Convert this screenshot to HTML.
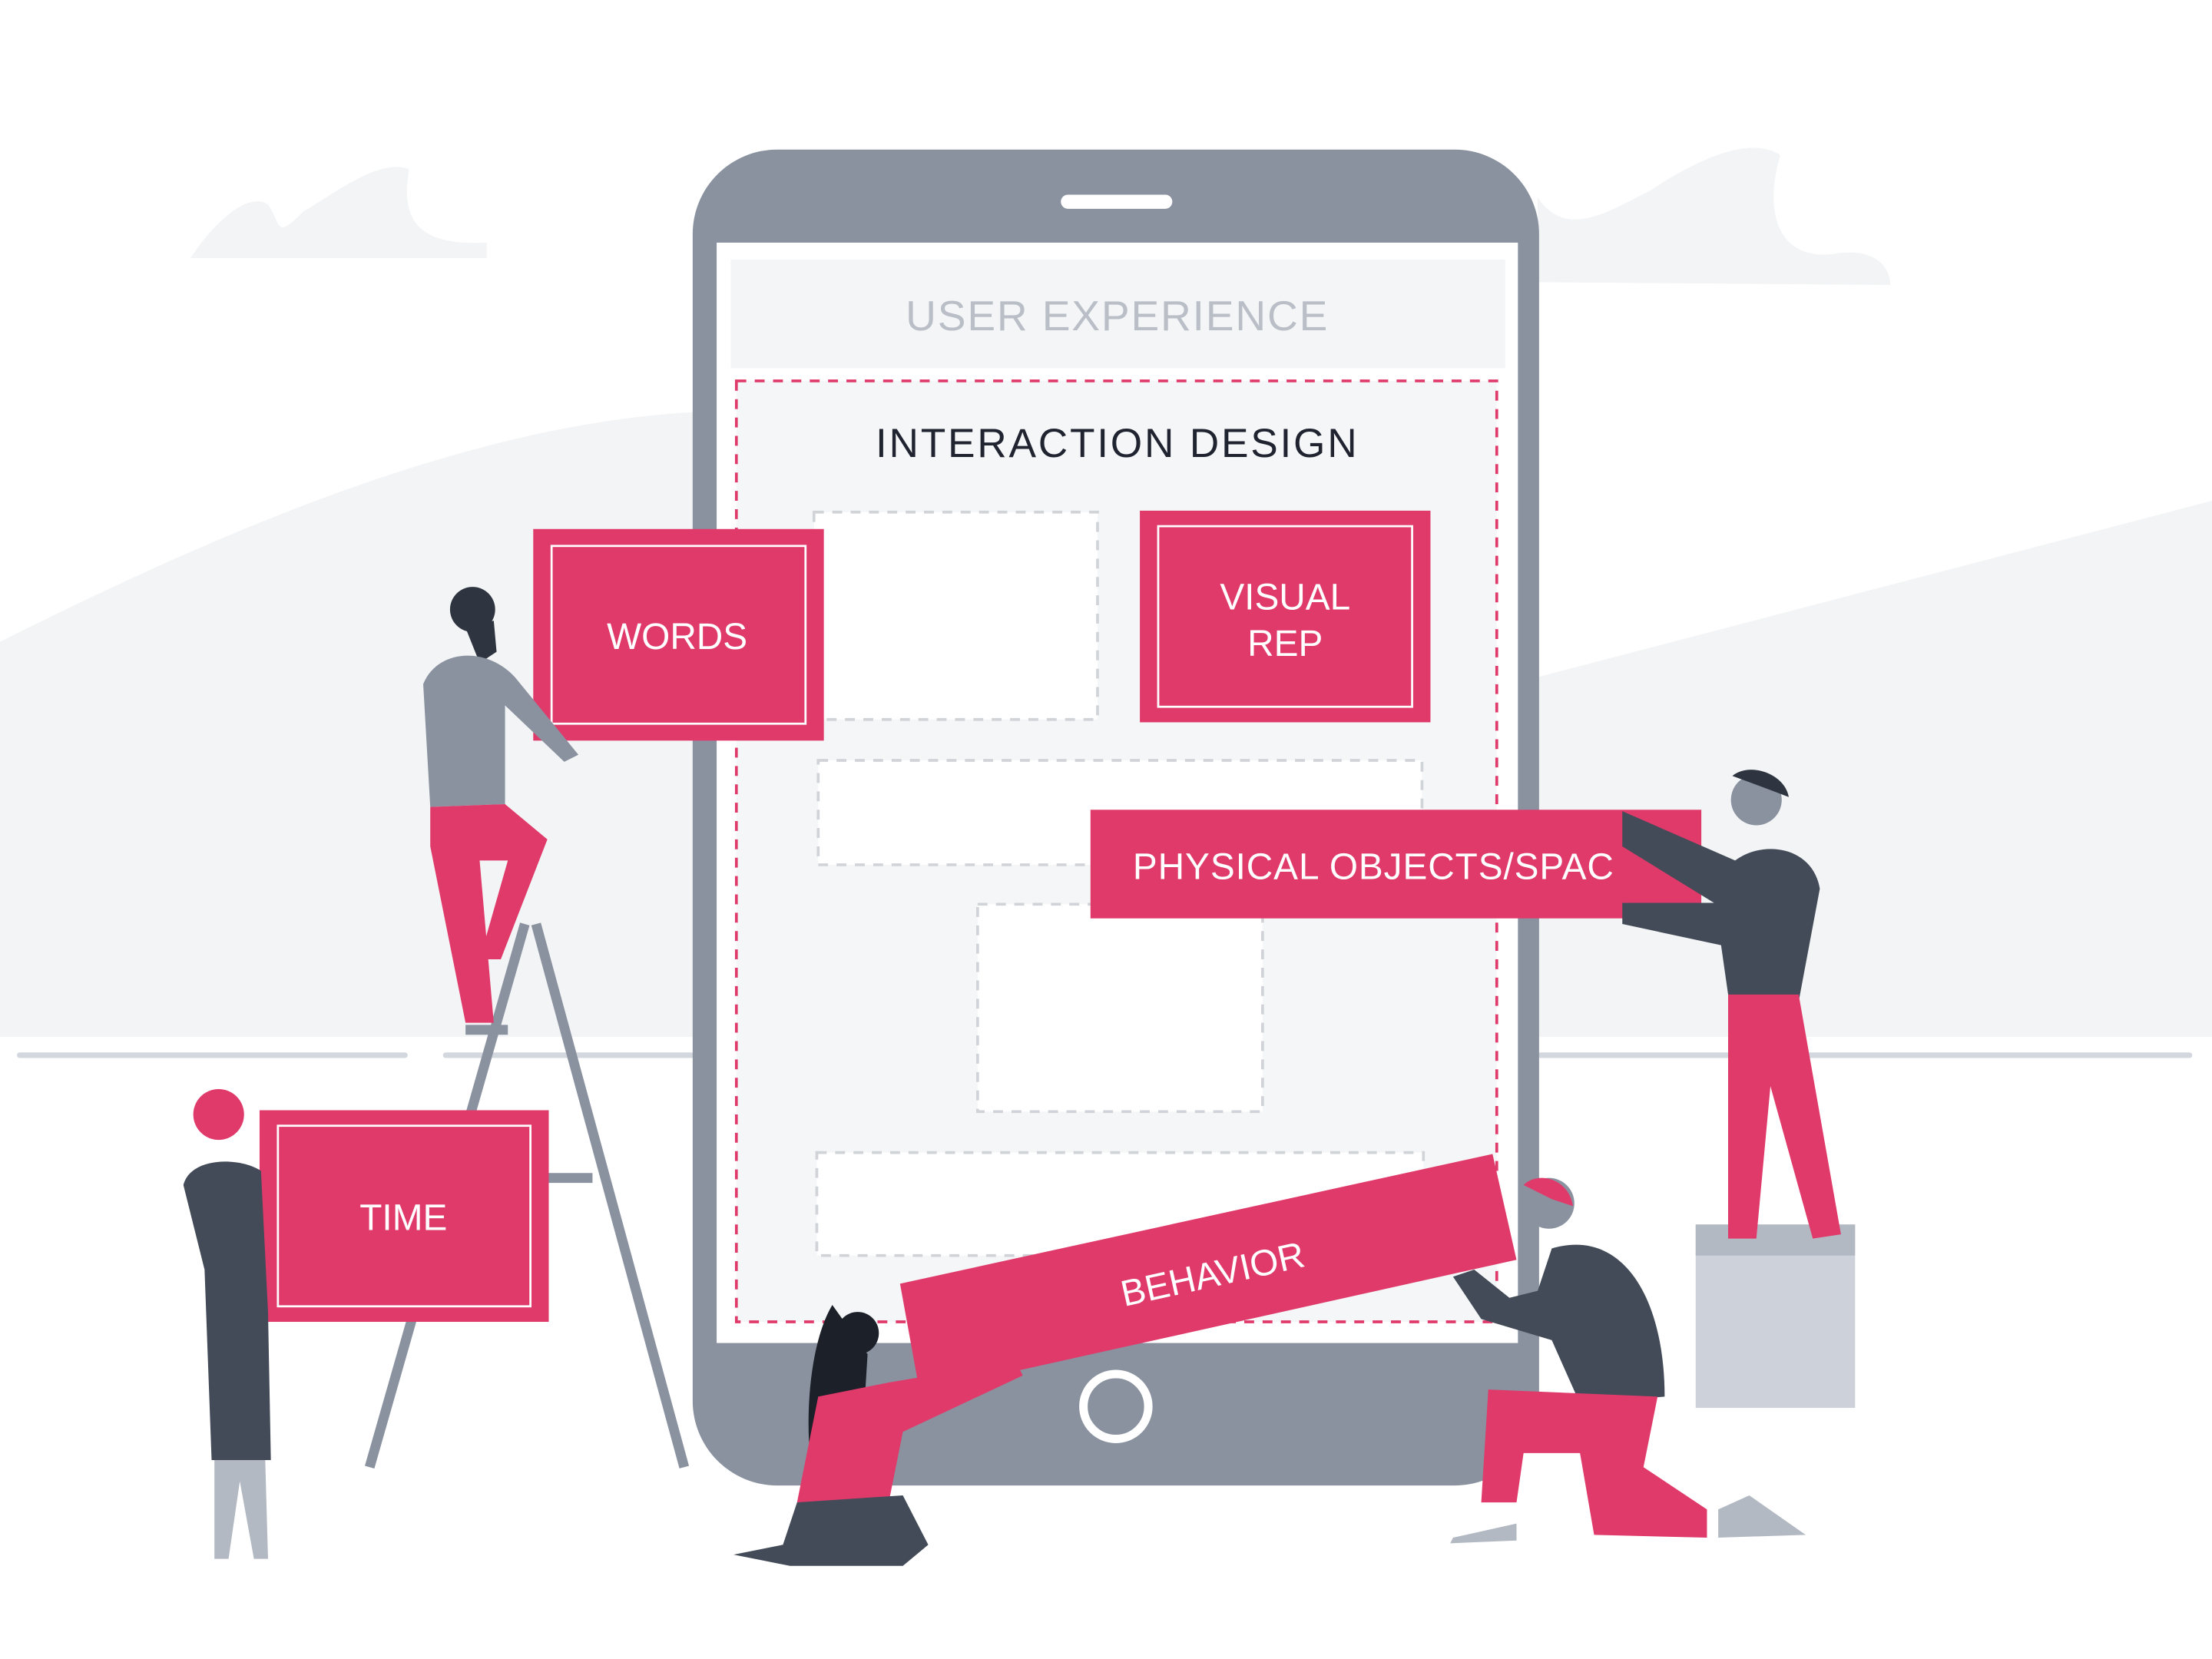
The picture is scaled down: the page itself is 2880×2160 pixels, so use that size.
<!DOCTYPE html>
<html><head><meta charset="utf-8"><style>
html,body{margin:0;padding:0;background:#fff;}
svg{display:block;}
text{font-family:"Liberation Sans",sans-serif;}
</style></head><body>
<svg width="2880" height="2160" viewBox="0 0 1568 1176" xmlns="http://www.w3.org/2000/svg">
<rect width="1568" height="1176" fill="#fff"/>
<!-- hills -->
<path d="M0 455 C150 380 330 300 495 292 L495 735 L0 735 Z" fill="#f2f4f5"/>
<path d="M1090 480 L1568 355 L1568 735 L1090 735 Z" fill="#f2f4f5"/>
<!-- clouds -->
<path d="M135 183 C150 160 175 135 190 145 C200 160 195 170 215 150 C240 135 270 112 290 120 C285 150 290 175 345 172 L345 183 Z" fill="#f2f4f5"/>
<path d="M1090 200 L1090 140 C1110 170 1140 150 1170 135 C1200 115 1240 95 1262 110 C1250 150 1260 185 1300 180 C1330 175 1340 190 1340 202 Z" fill="#f2f4f5"/>
<!-- ground lines -->
<g stroke="#d3d7de" stroke-width="4" stroke-linecap="round">
<line x1="14" y1="748" x2="287" y2="748"/><line x1="316" y1="748" x2="490" y2="748"/><line x1="1092" y1="748" x2="1552" y2="748"/>
</g>
<!-- ladder -->
<g stroke="#8a92a0" stroke-width="7">
<line x1="372" y1="655" x2="262" y2="1040"/><line x1="380" y1="655" x2="485" y2="1040"/>
<line x1="330" y1="730" x2="360" y2="730"/><line x1="300" y1="835" x2="420" y2="835"/>
</g>
<!-- phone -->
<rect x="491" y="106" width="600" height="947" rx="60" fill="#8a92a0"/>
<rect x="508" y="172" width="568" height="780" fill="#fff"/>
<rect x="752" y="138" width="79" height="10" rx="5" fill="#fff"/>
<circle cx="791" cy="997" r="23" fill="none" stroke="#fff" stroke-width="6"/>
<rect x="518" y="184" width="549" height="77" fill="#f3f5f6"/>
<text x="792" y="234" font-size="30" fill="#b9bec7" text-anchor="middle" letter-spacing="1">USER EXPERIENCE</text>
<rect x="522" y="270" width="539" height="667" fill="#f4f6f7" stroke="#e03a6b" stroke-width="2" stroke-dasharray="7 6"/>
<text x="792" y="324" font-size="29" fill="#1f2430" text-anchor="middle" letter-spacing="1.5">INTERACTION DESIGN</text>
<g fill="#fff" stroke="#d0d3d8" stroke-width="2" stroke-dasharray="7 6">
<rect x="577" y="363" width="201" height="147"/><rect x="580" y="539" width="428" height="74"/>
<rect x="693" y="641" width="202" height="147"/><rect x="579" y="817" width="430" height="73"/>
</g>
<!-- pedestal -->
<rect x="1202" y="868" width="113" height="130" fill="#cdd2da"/>
<rect x="1202" y="868" width="113" height="22" fill="#b3b9c3"/>
<!-- pink boxes -->
<g fill="#e03a6b">
<rect x="378" y="375" width="206" height="150"/><rect x="808" y="362" width="206" height="150"/>
<rect x="184" y="787" width="205" height="150"/><rect x="773" y="574" width="433" height="77"/>
</g>
<g fill="none" stroke="#fff" stroke-width="1.5">
<rect x="391" y="387" width="180" height="126"/><rect x="821" y="373" width="180" height="128"/><rect x="197" y="798" width="179" height="128"/>
</g>
<g fill="#fff" font-size="26" text-anchor="middle">
<text x="480" y="460">WORDS</text><text x="911" y="432">VISUAL</text><text x="911" y="465">REP</text>
<text x="286" y="872">TIME</text><text x="803" y="623" text-anchor="start" letter-spacing="0.5">PHYSICAL OBJECTS/SPAC</text>
</g>
<polygon points="638,910 1058,818 1075,893 652,987" fill="#e03a6b"/>
<text x="860" y="912" font-size="26" fill="#fff" text-anchor="middle" transform="rotate(-12.5 860 905)">BEHAVIOR</text>
<!-- person top left -->
<path d="M330 445 L350 440 L352 462 L340 470 Z" fill="#2e3440"/>
<circle cx="335" cy="432" r="16" fill="#2e3440"/>
<path d="M300 485 C310 460 345 458 365 480 L410 535 L400 540 L358 500 L358 570 L305 572 Z" fill="#8a92a0"/>
<path d="M305 572 L358 570 L388 595 L355 680 L340 680 L360 610 L340 610 L350 725 L330 725 L305 600 Z" fill="#e03a6b"/>
<!-- woman left -->
<circle cx="155" cy="790" r="18" fill="#e03a6b"/>
<path d="M130 840 C135 820 170 820 185 830 L190 930 L192 1035 L150 1035 L145 900 Z" fill="#434b58"/>
<path d="M152 1035 L188 1035 L190 1105 L180 1105 L170 1050 L162 1105 L152 1105 Z" fill="#b3b9c3"/>
<!-- woman bottom -->
<path d="M590 925 C575 950 570 1000 575 1040 L610 1040 L615 960 Z" fill="#1c2029"/>
<circle cx="608" cy="945" r="15" fill="#1c2029"/>
<path d="M580 990 L630 980 L720 965 L725 975 L640 1015 L630 1065 L565 1065 Z" fill="#e03a6b"/>
<path d="M565 1065 L640 1060 L658 1095 L640 1110 L560 1110 L520 1102 L555 1095 Z" fill="#434b58"/>
<!-- man right standing -->
<circle cx="1245" cy="567" r="18" fill="#8a92a0"/><path d="M1228 550 C1240 540 1265 548 1268 565 L1255 560 Z" fill="#2e3440"/>
<path d="M1150 575 L1230 610 C1250 595 1285 600 1290 630 L1275 710 L1225 705 L1220 670 L1150 655 L1150 640 L1215 640 L1150 600 Z" fill="#434b58"/>
<path d="M1225 705 L1275 705 L1305 875 L1285 878 L1255 770 L1245 878 L1225 878 Z" fill="#e03a6b"/>
<!-- man kneeling -->
<circle cx="1098" cy="853" r="18" fill="#8a92a0"/><path d="M1080 840 C1090 830 1112 835 1115 855 L1100 850 Z" fill="#e03a6b"/>
<path d="M1100 885 C1150 870 1180 920 1180 990 L1120 995 L1100 950 L1050 935 L1030 905 L1045 900 L1070 920 L1090 915 Z" fill="#434b58"/>
<path d="M1055 985 L1175 990 L1165 1040 L1210 1070 L1210 1090 L1130 1088 L1120 1030 L1080 1030 L1075 1065 L1050 1065 Z" fill="#e03a6b"/>
<path d="M1030 1090 L1075 1080 L1075 1092 L1028 1094 Z" fill="#b3b9c3"/>
<path d="M1218 1070 L1240 1060 L1280 1088 L1218 1090 Z" fill="#b3b9c3"/>
</svg>
</body></html>
